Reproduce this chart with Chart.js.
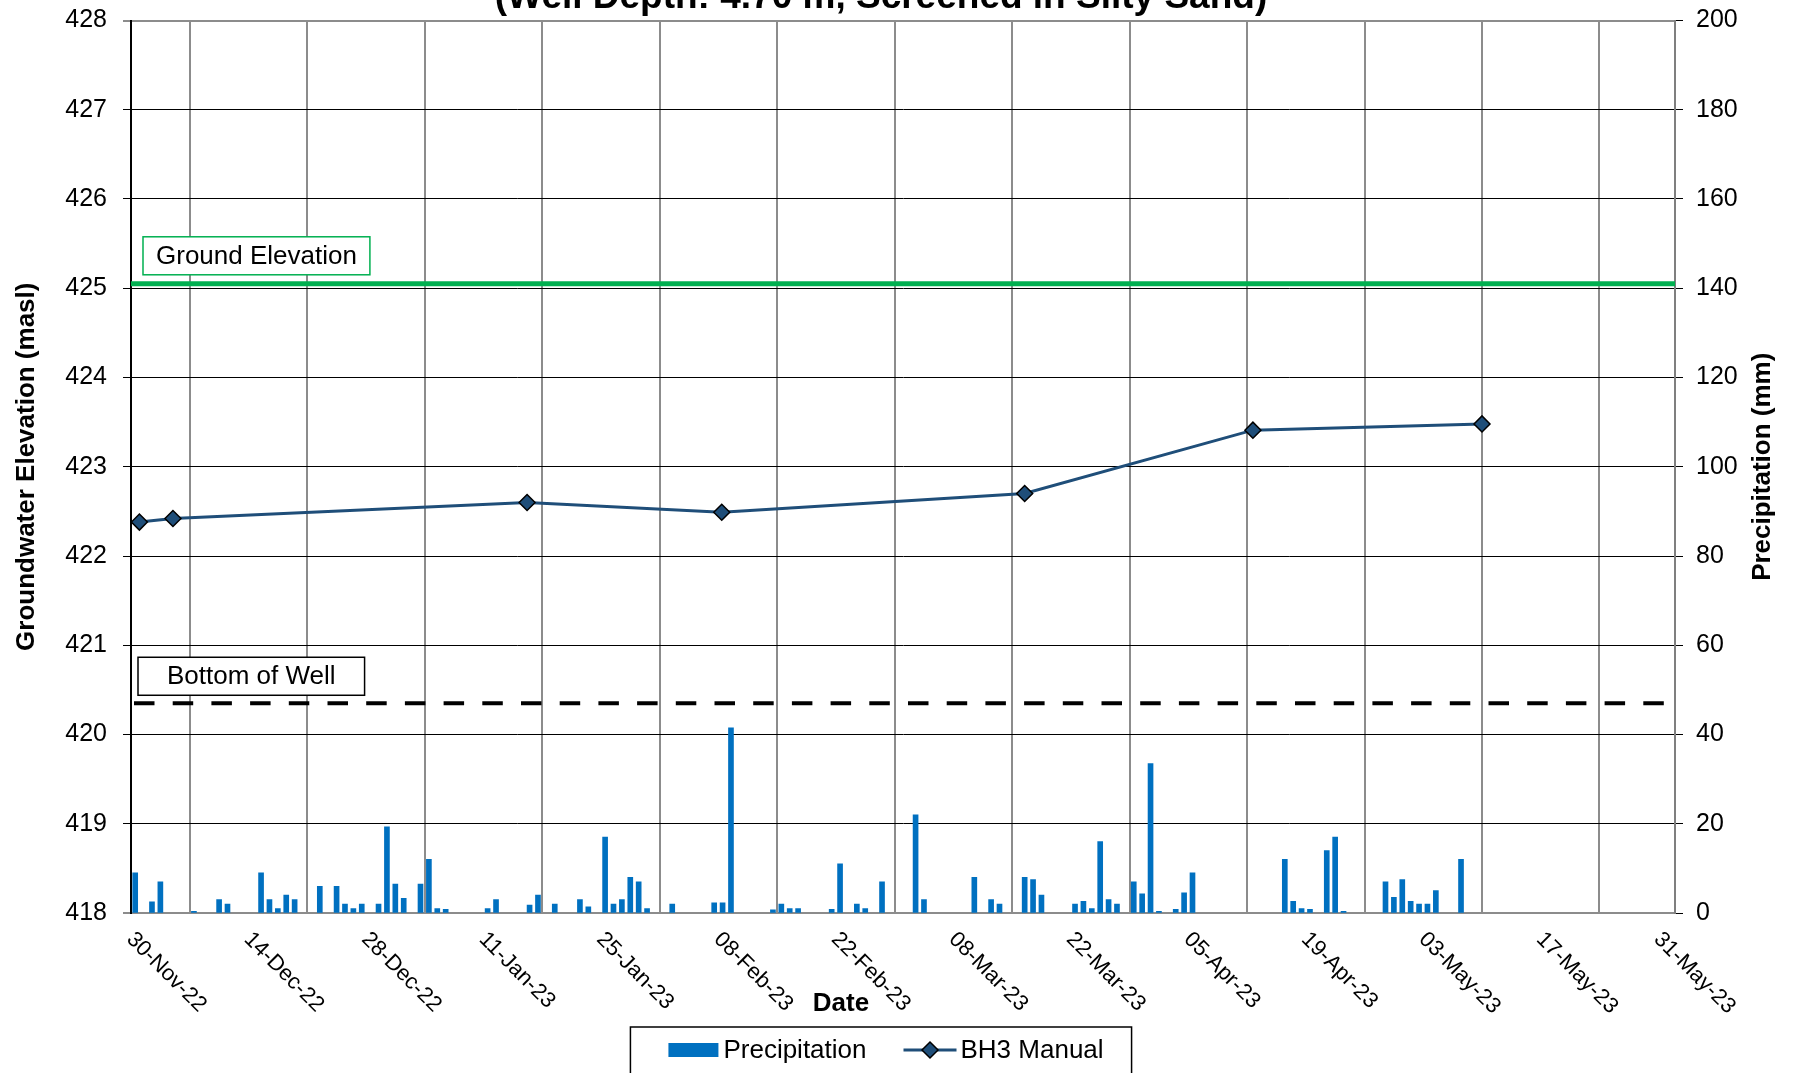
<!DOCTYPE html>
<html>
<head>
<meta charset="utf-8">
<script src="https://cdn.jsdelivr.net/npm/chart.js@4.4.0/dist/chart.umd.min.js"></script>
<style>
  html, body { margin: 0; padding: 0; background: #fff; }
</style>
</head>
<body>
<canvas id="chart" width="1799" height="1073"></canvas>
<script>
'use strict';

// days are counted from 30-Nov-22 (day 0)
var tickDays = [0, 14, 28, 42, 56, 70, 84, 98, 112, 126, 140, 154, 168, 182];
var axisEndDay = 184;

// daily precipitation (mm)
var rainDays = [0, 2, 3, 7, 10, 11, 15, 16, 17, 18, 19, 22, 24, 25, 26, 27, 29, 30, 31, 32,
    34, 35, 36, 37, 42, 43, 47, 48, 50, 53, 54, 56, 57, 58, 59, 60, 61, 64, 69, 70,
    71, 76, 77, 78, 79, 83, 84, 86, 87, 89, 93, 94, 100, 102, 103, 106, 107, 108, 112, 113,
    114, 115, 116, 117, 119, 120, 121, 122, 124, 125, 126, 137, 138, 139, 140, 142, 143, 144, 149, 150,
    151, 152, 153, 154, 155, 158];
var rainMm = [9, 2.5, 7, 0.4, 3, 2, 9, 3, 1, 4, 3, 6, 6, 2, 1, 2, 2, 19.3, 6.5, 3.3,
    6.5, 12, 1, 0.8, 1, 3, 1.8, 4, 2, 3, 1.4, 17, 2, 3, 8, 7, 1, 2, 2.3, 2.3,
    41.5, 0.7, 2, 1, 1, 0.8, 11, 2, 1, 7, 22, 3, 8, 3, 2, 8, 7.5, 4, 2, 2.6,
    1, 16, 3, 2, 7, 4.3, 33.5, 0.4, 0.8, 4.5, 9, 12, 2.6, 1, 0.8, 14, 17, 0.4, 7, 3.5,
    7.5, 2.6, 2, 2, 5, 12];

// BH3 manual water levels (masl)
var manualDays = [1, 5, 47.2, 70.4, 106.5, 133.7, 161];
var manualElev = [422.38, 422.42, 422.60, 422.49, 422.70, 423.41, 423.48];

var groundElev = 425.05;
var wellBottom = 420.35;

var MONTHS = ['Jan', 'Feb', 'Mar', 'Apr', 'May', 'Jun', 'Jul', 'Aug', 'Sep', 'Oct', 'Nov', 'Dec'];
var FONT = '"Liberation Sans", Arial, Helvetica, sans-serif';
var BLUE = '#0070C0';
var NAVY = '#1F4E79';
var GREY = '#8c8c8c';

function dayLabel(d) {
    var dt = new Date(2022, 10, 30 + d);
    var dd = dt.getDate();
    return (dd < 10 ? '0' + dd : dd) + '-' + MONTHS[dt.getMonth()] + '-' + String(dt.getFullYear()).slice(2);
}

var rainPoints = rainDays.map(function (d, i) { return { x: d + 0.5, y: rainMm[i] }; });
var manualPoints = manualDays.map(function (d, i) { return { x: d, y: manualElev[i] }; });

function diamond(ctx, x, y, r) {
    ctx.beginPath();
    ctx.moveTo(x, y - r);
    ctx.lineTo(x + r, y);
    ctx.lineTo(x, y + r);
    ctx.lineTo(x - r, y);
    ctx.closePath();
    ctx.fillStyle = NAVY;
    ctx.fill();
    ctx.lineWidth = 1.5;
    ctx.strokeStyle = '#000';
    ctx.stroke();
}

function boxLabel(ctx, text, left, bottom, padX, height, color) {
    ctx.font = '26px ' + FONT;
    var w = ctx.measureText(text).width + padX * 2;
    ctx.fillStyle = '#fff';
    ctx.fillRect(left, bottom - height, w, height);
    ctx.lineWidth = 1.5;
    ctx.strokeStyle = color;
    ctx.strokeRect(left, bottom - height, w, height);
    ctx.fillStyle = '#000';
    ctx.textAlign = 'left';
    ctx.textBaseline = 'middle';
    ctx.fillText(text, left + padX, bottom - height / 2 + 1);
}

// fixed axis sizes so the plot area sits where the original one does
function fitY(width) {
    return function (scale) {
        scale.width = width;
        scale.paddingTop = 0;
        scale.paddingBottom = 0;
    };
}

var decor = {
    id: 'decor',
    afterDraw: function (chart) {
        var ctx = chart.ctx;
        var area = chart.chartArea;
        var xs = chart.scales.x;
        var ys = chart.scales.y;
        ctx.save();

        // title (top part falls outside the picture)
        ctx.fillStyle = '#000';
        ctx.font = 'bold 37px ' + FONT;
        ctx.textAlign = 'center';
        ctx.textBaseline = 'alphabetic';
        ctx.fillText('(Well Depth: 4.70 m, Screened in Silty Sand)', 881, 8);

        // x tick labels, rotated clockwise
        ctx.font = '22px ' + FONT;
        ctx.textAlign = 'left';
        ctx.textBaseline = 'middle';
        tickDays.forEach(function (d) {
            var px = xs.getPixelForValue(d);
            ctx.save();
            ctx.translate(px - 1, area.bottom + 23);
            ctx.rotate(Math.PI / 4);
            ctx.fillText(dayLabel(d), 0, 0);
            ctx.restore();
        });

        // x axis title
        ctx.font = 'bold 26px ' + FONT;
        ctx.textAlign = 'center';
        ctx.fillText('Date', 841, 1004);

        // right axis title, reading bottom to top
        ctx.save();
        ctx.textAlign = 'center';
        ctx.textBaseline = 'middle';
        ctx.translate(1763, (area.top + area.bottom) / 2);
        ctx.rotate(-Math.PI / 2);
        ctx.fillText('Precipitation (mm)', 0, 0);
        ctx.restore();

        // reference line labels
        boxLabel(ctx, 'Ground Elevation', area.left + 12, ys.getPixelForValue(groundElev) - 9, 13, 38, '#00B050');
        boxLabel(ctx, 'Bottom of Well', area.left + 7, ys.getPixelForValue(wellBottom) - 8, 29, 38, '#000');

        // legend
        ctx.font = '26px ' + FONT;
        var t1 = 'Precipitation', t2 = 'BH3 Manual';
        var w1 = ctx.measureText(t1).width, w2 = ctx.measureText(t2).width;
        var total = 38 + 50 + 5 + w1 + 37 + 53 + 4 + w2 + 28;
        var lx = 881 - total / 2;
        var ly = 1050;
        ctx.lineWidth = 1.5;
        ctx.strokeStyle = '#000';
        ctx.strokeRect(lx, 1027, total, 60);
        var cx = lx + 38;
        ctx.fillStyle = BLUE;
        ctx.fillRect(cx, ly - 7, 50, 14);
        cx += 55;
        ctx.fillStyle = '#000';
        ctx.textAlign = 'left';
        ctx.textBaseline = 'middle';
        ctx.fillText(t1, cx, ly + 1);
        cx += w1 + 37;
        ctx.strokeStyle = NAVY;
        ctx.lineWidth = 3;
        ctx.beginPath();
        ctx.moveTo(cx, ly);
        ctx.lineTo(cx + 53, ly);
        ctx.stroke();
        diamond(ctx, cx + 26.5, ly, 8);
        cx += 57;
        ctx.fillStyle = '#000';
        ctx.fillText(t2, cx, ly + 1);

        ctx.restore();
    }
};

Chart.defaults.font.family = FONT;
Chart.defaults.color = '#000';

var chart = new Chart(document.getElementById('chart'), {
    type: 'bar',
    data: {
        datasets: [{
            type: 'line',
            label: 'BH3 Manual',
            data: manualPoints,
            yAxisID: 'y',
            borderColor: NAVY,
            borderWidth: 3,
            pointStyle: 'rectRot',
            pointRadius: 8,
            pointBackgroundColor: NAVY,
            pointBorderColor: '#000',
            pointBorderWidth: 1.5,
            tension: 0,
            order: 1
        }, {
            type: 'line',
            label: 'Bottom of Well',
            data: [{ x: 0, y: wellBottom }, { x: axisEndDay, y: wellBottom }],
            yAxisID: 'y',
            borderColor: '#000',
            borderWidth: 4,
            borderDash: [20.5, 18.2],
            borderDashOffset: 35.7,
            pointRadius: 0,
            order: 2
        }, {
            type: 'line',
            label: 'Ground Elevation',
            data: [{ x: 0, y: groundElev }, { x: axisEndDay, y: groundElev }],
            yAxisID: 'y',
            borderColor: '#00B050',
            borderWidth: 5,
            pointRadius: 0,
            order: 3
        }, {
            type: 'bar',
            label: 'Precipitation',
            data: rainPoints,
            yAxisID: 'y2',
            backgroundColor: BLUE,
            barThickness: 5,
            order: 4
        }]
    },
    options: {
        responsive: false,
        animation: false,
        layout: { padding: { top: 20.5, bottom: 46, left: 0, right: 0 } },
        plugins: {
            legend: { display: false },
            tooltip: { enabled: false }
        },
        scales: {
            x: {
                type: 'linear',
                position: 'bottom',
                min: 0,
                max: axisEndDay,
                offset: false,
                afterBuildTicks: function (scale) {
                    scale.ticks = tickDays.map(function (v) { return { value: v }; });
                },
                afterFit: function (scale) { scale.height = 114; },
                ticks: { display: false },
                grid: { color: GREY, lineWidth: 2, drawTicks: false },
                border: { color: GREY, width: 2 }
            },
            y: {
                position: 'left',
                min: 418,
                max: 428,
                afterFit: fitY(131),
                ticks: { stepSize: 1, font: { size: 25 }, padding: 16 },
                grid: {
                    color: function (c) {
                        return (c.tick && (c.tick.value === 428 || c.tick.value === 418)) ? GREY : '#000';
                    },
                    lineWidth: function (c) {
                        return (c.tick && (c.tick.value === 428 || c.tick.value === 418)) ? 2 : 1;
                    },
                    tickLength: 8
                },
                border: { color: '#000', width: 2 },
                title: {
                    display: true,
                    text: 'Groundwater Elevation (masl)',
                    font: { size: 26, weight: 'bold' },
                    padding: { top: 11, bottom: 0 }
                }
            },
            y2: {
                position: 'right',
                min: 0,
                max: 200,
                afterFit: fitY(124),
                ticks: { stepSize: 20, font: { size: 25 }, padding: 13 },
                grid: { drawOnChartArea: false, color: '#000', tickLength: 8 },
                border: { color: '#7f7f7f', width: 2 }
            }
        }
    },
    plugins: [decor]
});
</script>
</body>
</html>
